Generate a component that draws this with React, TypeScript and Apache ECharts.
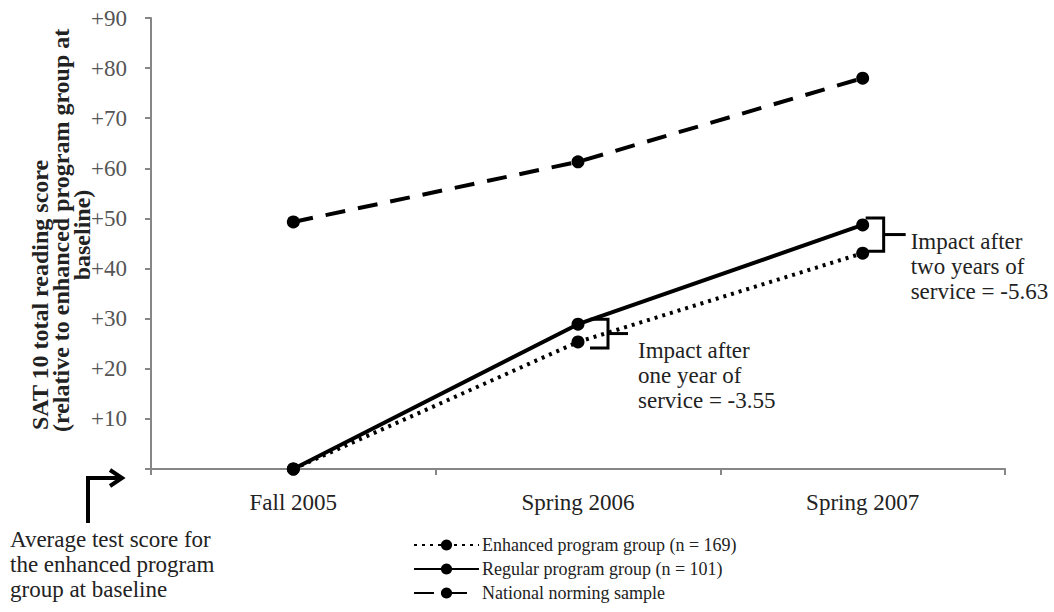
import React, { useEffect, useRef } from "react";
import * as echarts from "echarts";

const categories = ["Fall 2005", "Spring 2006", "Spring 2007"];
const enhancedValues = [0, 25.35, 43.07];
const regularValues = [0, 28.9, 48.7];
const nationalValues = [49.3, 61.3, 78.0];
const seriesNames = [
  "Enhanced program group (n = 169)",
  "Regular program group (n = 101)",
  "National norming sample",
];
const yAxisTitleLines = [
  "SAT 10 total reading score",
  "(relative to enhanced program group at",
  "baseline)",
];
const impactTexts = [
  "Impact after\none year of\nservice = -3.55",
  "Impact after\ntwo years of\nservice = -5.63",
];
const baselineNote = "Average test score for\nthe enhanced program\ngroup at baseline";

const FONT = '"Liberation Serif", "Times New Roman", serif';
const AXIS_COLOR = "#868686";

export default function App() {
  const ref = useRef<HTMLDivElement>(null);

  useEffect(() => {
    if (!ref.current) return;
    const chart = echarts.init(ref.current, undefined, { renderer: "svg" });
    const lineSeries = (name: string, data: number[], type: any) => ({
      name,
      type: "line",
      data,
      symbol: "circle",
      symbolSize: 13,
      itemStyle: { color: "#000" },
      lineStyle: { color: "#000", width: 4, type },
      emphasis: { disabled: true },
    });
    chart.setOption({
      animation: false,
      textStyle: { fontFamily: FONT },
      grid: { left: 151, right: 49, top: 18, bottom: 143 },
      legend: {
        orient: "vertical",
        left: 413,
        top: 536,
        height: 80,
        padding: 0,
        itemWidth: 65,
        itemHeight: 14,
        itemGap: 6,
        textStyle: { fontSize: 18, color: "#222", fontFamily: FONT, padding: [0, 0, 0, -2] },
        data: seriesNames,
      },
      xAxis: {
        type: "category",
        data: categories,
        boundaryGap: true,
        axisLine: { lineStyle: { color: AXIS_COLOR, width: 2 } },
        axisTick: { show: true, length: 6, lineStyle: { color: AXIS_COLOR, width: 2 } },
        axisLabel: { fontSize: 23, color: "#222", margin: 22, fontFamily: FONT },
      },
      yAxis: {
        type: "value",
        min: 0,
        max: 90,
        interval: 10,
        splitLine: { show: false },
        axisLine: { show: true, lineStyle: { color: AXIS_COLOR, width: 2 } },
        axisTick: { show: true, length: 6, lineStyle: { color: AXIS_COLOR, width: 2 } },
        axisLabel: {
          fontSize: 23,
          color: "#555",
          margin: 24,
          fontFamily: FONT,
          formatter: (v: number) => (v === 0 ? "" : "+" + v),
        },
      },
      series: [
        lineSeries(seriesNames[0], enhancedValues, [3, 5]),
        lineSeries(seriesNames[1], regularValues, "solid"),
        lineSeries(seriesNames[2], nationalValues, [20, 13]),
      ],
    });

    const px = (i: number, v: number) =>
      chart.convertToPixel({ gridIndex: 0 }, [i, v]) as number[];

    const stroke = { stroke: "#000", lineWidth: 3, fill: "none" };
    const bracket = (i: number, dx0: number, dxv: number, dxt: number, topOff: number, botOff: number) => {
      const r = px(i, regularValues[i]);
      const e = px(i, enhancedValues[i]);
      const cx = r[0];
      const top = r[1] + topOff;
      const bot = e[1] + botOff;
      const mid = (top + bot) / 2;
      return [
        {
          type: "polyline",
          shape: { points: [[cx + dx0, top], [cx + dxv, top], [cx + dxv, bot], [cx + dx0, bot]] },
          style: stroke,
          silent: true,
        },
        {
          type: "line",
          shape: { x1: cx + dxv, y1: mid, x2: cx + dxt, y2: mid },
          style: stroke,
          silent: true,
        },
      ];
    };

    const p1 = px(1, regularValues[1]);
    const p2 = px(2, regularValues[2]);
    const textStyle = {
      fontSize: 23,
      fontFamily: FONT,
      fill: "#222",
      lineHeight: 25,
      align: "left",
      verticalAlign: "top",
    };
    const titleStyle = {
      fontSize: 24,
      fontWeight: "bold",
      fontFamily: FONT,
      fill: "#222",
      verticalAlign: "middle",
    };

    chart.setOption({
      graphic: [
        ...bracket(1, 12, 30, 50, -5, 6),
        ...bracket(2, 3, 21, 43, -7, -2),
        { type: "text", x: p1[0] + 60, y: 338, style: { ...textStyle, text: impactTexts[0] }, silent: true },
        { type: "text", x: p2[0] + 48, y: 229, style: { ...textStyle, text: impactTexts[1] }, silent: true },
        { type: "text", x: 10, y: 527, style: { ...textStyle, text: baselineNote }, silent: true },
        {
          type: "polyline",
          shape: { points: [[88, 523], [88, 478], [121, 478]] },
          style: { stroke: "#000", lineWidth: 4, fill: "none" },
          silent: true,
        },
        {
          type: "polyline",
          shape: { points: [[110, 470], [122, 478], [110, 486]] },
          style: { stroke: "#000", lineWidth: 4, fill: "none" },
          silent: true,
        },
        {
          type: "text",
          x: 40,
          y: 430,
          rotation: Math.PI / 2,
          style: { ...titleStyle, text: yAxisTitleLines[0], align: "left" },
          silent: true,
        },
        {
          type: "text",
          x: 61,
          y: 432,
          rotation: Math.PI / 2,
          style: { ...titleStyle, text: yAxisTitleLines[1], align: "left" },
          silent: true,
        },
        {
          type: "text",
          x: 82,
          y: 235,
          rotation: Math.PI / 2,
          style: { ...titleStyle, text: yAxisTitleLines[2], align: "center" },
          silent: true,
        },
      ],
    });

    return () => chart.dispose();
  }, []);

  return (
    <div
      ref={ref}
      style={{ position: "absolute", left: 0, top: 0, width: 1054, height: 612, background: "#fff" }}
    />
  );
}
